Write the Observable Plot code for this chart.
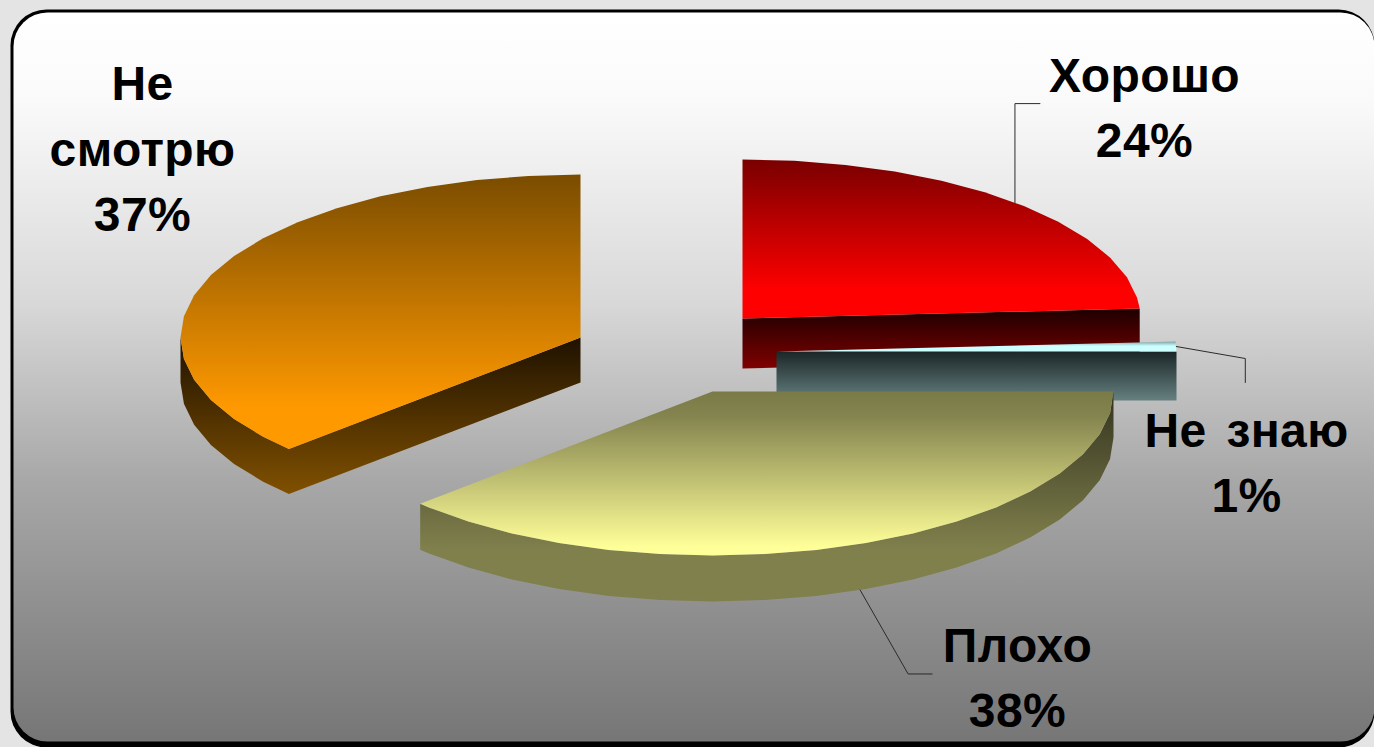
<!DOCTYPE html>
<html lang="ru">
<head>
<meta charset="utf-8">
<script src="https://cdn.jsdelivr.net/npm/d3@7"></script>
<script src="https://cdn.jsdelivr.net/npm/@observablehq/plot@0.6"></script>
<style>
  html, body { margin: 0; padding: 0; background: #e3e4e3; overflow: hidden; }
  svg { display: block; }
</style>
</head>
<body>
<script>
// Survey answers, in the order the slices run clockwise from twelve o'clock.
const categories = ["Хорошо", "Не знаю", "Плохо", "Не смотрю"];
const shares = [24, 1, 38, 37];
const labelLines = ["Хорошо", "Не знаю", "Плохо", "Не\nсмотрю"];

// Where each exploded slice sits and how thick and wide it is drawn.
const sliceLayout = [
  {cx: 742, cy: 318, a: 398, b: 159, depth: 50, labelX: 1144, labelY: 103, top: "redTop", wall: "redWall", leader: [[0, -99], [25, -99]], leaderOnWall: false},
  {cx: 776, cy: 351, a: 400, b: 159, depth: 49, labelX: 1246, labelY: 458, top: "tealTop", wall: "tealWall", leader: [[69, 12], [69, 36]], leaderOnWall: false},
  {cx: 712, cy: 391, a: 401, b: 164, depth: 46, labelX: 1017, labelY: 673, top: "yellowTop", wall: "yellowWall", leader: [[48, 84], [72, 84]], leaderOnWall: true},
  {cx: 580, cy: 337, a: 400, b: 163, depth: 45, labelX: 142, labelY: 144, top: "orangeTop", wall: "orangeWall", leader: null, leaderOnWall: false}
];
const drawOrder = [3, 0, 1, 2];
const facetStep = Math.PI / 24;

const arcs = d3.pie().sort(null).startAngle(0).endAngle(2 * Math.PI)(shares);

const rim = (s, t, dy = 0) => ({x: s.cx + s.a * Math.sin(t), y: s.cy - s.b * Math.cos(t) + dy});

// Rim points from t0 to t1, faceted the way the old renderer steps its curves.
function rimPoints(s, t0, t1, dy = 0) {
  const inner = d3.range(Math.ceil(t0 / facetStep), Math.floor(t1 / facetStep) + 1).map((k) => k * facetStep);
  return [t0, ...inner.filter((t) => t > t0 && t < t1), t1].map((t) => rim(s, t, dy));
}

function topFace(i) {
  const s = sliceLayout[i], {startAngle: t0, endAngle: t1} = arcs[i];
  return [{x: s.cx, y: s.cy}, ...rimPoints(s, t0, t1)];
}

// The visible side of a slice: the outer rim on the near half, the cut faces toward the viewer.
function sideFace(i) {
  const s = sliceLayout[i], {startAngle: t0, endAngle: t1} = arcs[i];
  const apex = {x: s.cx, y: s.cy};
  const drop = (p) => ({x: p.x, y: p.y + s.depth});
  const outline = (path) => [...path, ...path.slice().reverse().map(drop)];
  if (t1 <= Math.PI / 2 + 1e-9) return outline([apex, rim(s, t1)]);
  if (t1 >= 2 * Math.PI - 1e-9) return outline([...rimPoints(s, t0, Math.PI * 1.5).reverse(), apex]);
  return outline(rimPoints(s, Math.max(t0, Math.PI / 2), Math.min(t1, Math.PI * 1.5)));
}

function leaderPath(i) {
  const s = sliceLayout[i];
  if (!s.leader) return [];
  const start = rim(s, (arcs[i].startAngle + arcs[i].endAngle) / 2, s.leaderOnWall ? s.depth : 0);
  return [start, ...s.leader.map(([dx, dy]) => ({x: start.x + dx, y: start.y + dy}))];
}

const gradientStops = {
  panelFill: [[0, "#ffffff"], [0.12, "#fafafa"], [0.4, "#d8d8d8"], [0.64, "#a8a8a8"], [1, "#767676"]],
  redTop: [[0, "#7a0000"], [0.82, "#ff0000"], [1, "#ff0000"]],
  redWall: [[0, "#1e0000"], [1, "#800000"]],
  tealTop: [[0, "#7fa3a3"], [0.45, "#ccffff"], [1, "#ccffff"]],
  tealWall: [[0, "#1b2628"], [1, "#668080"]],
  yellowTop: [[0, "#7a7a48"], [0.15, "#84844f"], [0.95, "#ffff99"], [1, "#ffff99"]],
  yellowWall: [[0, "#33331f"], [0.75, "#80804d"], [1, "#80804d"]],
  orangeTop: [[0, "#7a4c00"], [0.85, "#ff9900"], [1, "#ff9900"]],
  orangeWall: [[0, "#1f1200"], [1, "#805000"]]
};

// Vertical gradients shared by the panel and the slices.
function gradients() {
  const ns = "http://www.w3.org/2000/svg";
  const defs = document.createElementNS(ns, "defs");
  for (const [id, stops] of Object.entries(gradientStops)) {
    const g = document.createElementNS(ns, "linearGradient");
    g.setAttribute("id", id);
    g.setAttribute("x1", 0); g.setAttribute("x2", 0);
    g.setAttribute("y1", 0); g.setAttribute("y2", 1);
    for (const [offset, color] of stops) {
      const stop = document.createElementNS(ns, "stop");
      stop.setAttribute("offset", offset);
      stop.setAttribute("stop-color", color);
      g.appendChild(stop);
    }
    defs.appendChild(g);
  }
  return defs;
}

const sliceMarks = drawOrder.flatMap((i) => [
  Plot.line(sideFace(i), {x: "x", y: "y", fill: `url(#${sliceLayout[i].wall})`, stroke: "none"}),
  Plot.line(topFace(i), {x: "x", y: "y", fill: `url(#${sliceLayout[i].top})`, stroke: "none"})
]);

const leaderMarks = sliceLayout.map((s, i) =>
  Plot.line(leaderPath(i), {x: "x", y: "y", stroke: "#2b2b2b", strokeWidth: 1})
);

const labels = categories.map((c, i) => ({
  text: `${labelLines[i]}\n${shares[i]}%`,
  x: sliceLayout[i].labelX,
  y: sliceLayout[i].labelY
}));

const chart = Plot.plot({
  width: 1374,
  height: 747,
  margin: 0,
  style: {background: "#e3e4e3", fontFamily: "'Liberation Sans', Arial, sans-serif", wordSpacing: "6px", letterSpacing: "0.4px"},
  x: {domain: [0, 1374], range: [0, 1374], axis: null},
  y: {domain: [0, 747], range: [0, 747], axis: null},
  marks: [
    gradients,
    Plot.frame({fill: "#000", stroke: "none", rx: 36, insetLeft: 10, insetTop: 9, insetRight: 0, insetBottom: 0}),
    Plot.frame({fill: "url(#panelFill)", stroke: "none", rx: 34, insetLeft: 13, insetTop: 12, insetRight: 0, insetBottom: 6}),
    ...sliceMarks,
    ...leaderMarks,
    Plot.text(labels, {
      x: "x", y: "y", text: "text",
      fontSize: 48, fontWeight: 700, fill: "#000", lineHeight: 1.37, textAnchor: "middle"
    })
  ]
});
document.body.appendChild(chart);
</script>
</body>
</html>
